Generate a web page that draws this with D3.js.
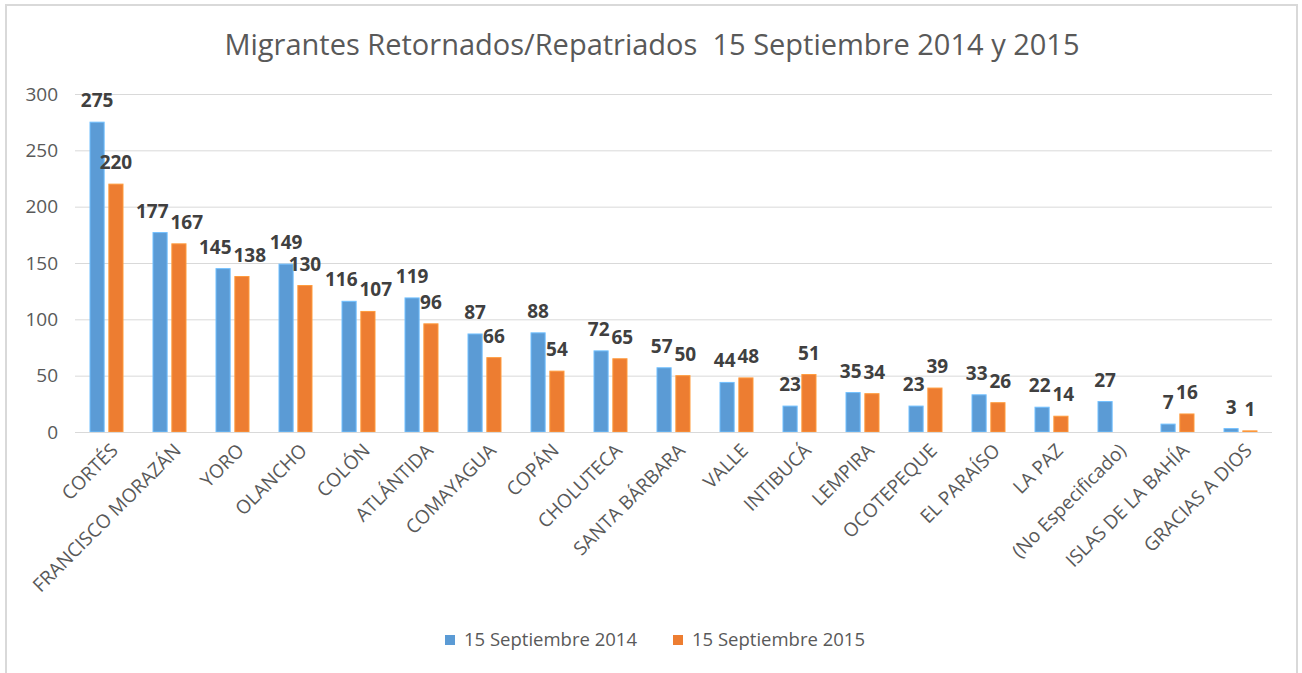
<!DOCTYPE html>
<html lang="es">
<head>
  <meta charset="UTF-8">
  <title>Migrantes Retornados/Repatriados</title>
  <script src="https://d3js.org/d3.v7.min.js"></script>
  <style>
    body {
      margin: 0;
      background: white;
      font-family: "Open Sans", sans-serif;
    }
    .grid line {
      stroke: #d9d9d9;
      stroke-width: 1;
    }
    .tick-label {
      fill: #595959;
      font-size: 19px;
    }
    .cat-label {
      fill: #595959;
      font-size: 19px;
      text-anchor: end;
    }
    .value {
      fill: #404040;
      font-size: 19px;
      font-weight: bold;
      text-anchor: middle;
    }
  </style>
</head>
<body>
  <svg id="chart"></svg>
  <script>
    const categories = ["CORTÉS", "FRANCISCO MORAZÁN", "YORO", "OLANCHO", "COLÓN", "ATLÁNTIDA",
      "COMAYAGUA", "COPÁN", "CHOLUTECA", "SANTA BÁRBARA", "VALLE", "INTIBUCÁ", "LEMPIRA",
      "OCOTEPEQUE", "EL PARAÍSO", "LA PAZ", "(No Especificado)", "ISLAS DE LA BAHÍA", "GRACIAS A DIOS"];
    const series = ["15 Septiembre 2014", "15 Septiembre 2015"];
    const values2014 = [275, 177, 145, 149, 116, 119, 87, 88, 72, 57, 44, 23, 35, 23, 33, 22, 27, 7, 3];
    const values2015 = [220, 167, 138, 130, 107, 96, 66, 54, 65, 50, 48, 51, 34, 39, 26, 14, null, 16, 1];
    const yTicks = [0, 50, 100, 150, 200, 250, 300];
    const colors = ["#5b9bd5", "#ed7d31"];

    const width = 1302;
    const height = 673;
    const plot = { left: 75, right: 1272, top: 94, bottom: 432 };

    const svg = d3.select("#chart")
      .attr("width", width)
      .attr("height", height);

    // chart frame
    svg.append("rect")
      .attr("x", 6).attr("y", 5)
      .attr("width", 1291).attr("height", 720)
      .attr("fill", "white")
      .attr("stroke", "#d9d9d9")
      .attr("stroke-width", 2);

    svg.append("text")
      .attr("x", 652).attr("y", 55)
      .attr("text-anchor", "middle")
      .attr("fill", "#595959")
      .attr("xml:space", "preserve")
      .style("font-size", "29px")
      .text("Migrantes Retornados/Repatriados  15 Septiembre 2014 y 2015");

    const x = d3.scaleBand().domain(categories).range([plot.left, plot.right]);
    const x1 = d3.scaleBand().domain(series).range([-16.5, 16.5]).paddingInner(0.25);
    const y = d3.scaleLinear().domain([0, 300]).range([plot.bottom, plot.top]);

    const grid = svg.append("g").attr("class", "grid");
    grid.selectAll("line").data(yTicks).join("line")
      .attr("x1", plot.left).attr("x2", plot.right)
      .attr("y1", d => y(d) + 0.5).attr("y2", d => y(d) + 0.5);

    svg.append("g").selectAll("text").data(yTicks).join("text")
      .attr("class", "tick-label")
      .attr("x", 58)
      .attr("y", d => y(d))
      .attr("dy", "0.35em")
      .attr("text-anchor", "end")
      .text(d => d);

    const rows = series.map((s, i) => ({
      name: s,
      color: colors[i],
      points: categories.map((c, j) => ({ cat: c, value: [values2014, values2015][i][j] }))
        .filter(p => p.value != null)
    }));

    const groups = svg.append("g").selectAll("g").data(rows).join("g")
      .attr("fill", d => d.color);

    groups.selectAll("rect").data(d => d.points.map(p => ({ ...p, s: d.name, color: d.color })))
      .join("rect")
      .attr("x", d => x(d.cat) + x.bandwidth() / 2 + x1(d.s))
      .attr("y", d => y(d.value))
      .attr("width", x1.bandwidth())
      .attr("height", d => y(0) - y(d.value))
      .attr("stroke", d => d3.color(d.color).brighter(0.6))
      .attr("stroke-width", 1);

    const labels = groups.selectAll("text").data(d => d.points.map(p => ({ ...p, s: d.name })))
      .join("text")
      .attr("class", "value")
      .attr("x", d => x(d.cat) + x.bandwidth() / 2 + x1(d.s) + x1.bandwidth() / 2)
      .attr("y", d => y(d.value) - 15)
      .text(d => d.value);

    // spread the two labels of a category sideways when they collide
    const byCat = d3.group(labels.nodes(), n => d3.select(n).datum().cat);
    byCat.forEach(nodes => {
      if (nodes.length < 2) return;
      const [a, b] = nodes;
      const ya = +a.getAttribute("y"), yb = +b.getAttribute("y");
      if (Math.abs(ya - yb) >= 19) return;
      const xa = +a.getAttribute("x"), xb = +b.getAttribute("x");
      const need = (a.getComputedTextLength() + b.getComputedTextLength()) / 2 + 2;
      const overlap = need - (xb - xa);
      if (overlap > 0) {
        a.setAttribute("x", xa - overlap / 2);
        b.setAttribute("x", xb + overlap / 2);
      }
    });

    // baseline over bars
    svg.append("line")
      .attr("x1", plot.left).attr("x2", plot.right)
      .attr("y1", y(0) + 0.5).attr("y2", y(0) + 0.5)
      .attr("stroke", "#d9d9d9");

    svg.append("g").selectAll("text").data(categories).join("text")
      .attr("class", "cat-label")
      .attr("transform", d => `translate(${x(d) + x.bandwidth() / 2 + 8},${plot.bottom + 15}) rotate(-45)`)
      .attr("dy", "0.35em")
      .text(d => d);

    // legend
    const legend = svg.append("g").attr("transform", "translate(0,640)");
    const items = legend.selectAll("g").data(series).join("g")
      .attr("transform", (d, i) => `translate(${445 + i * 228},0)`);
    items.append("rect")
      .attr("x", 0).attr("y", -5)
      .attr("width", 10).attr("height", 10)
      .attr("fill", (d, i) => colors[i]);
    items.append("text")
      .attr("x", 19).attr("dy", "0.35em")
      .attr("fill", "#595959")
      .style("font-size", "18.5px")
      .text(d => d);
  </script>
</body>
</html>
